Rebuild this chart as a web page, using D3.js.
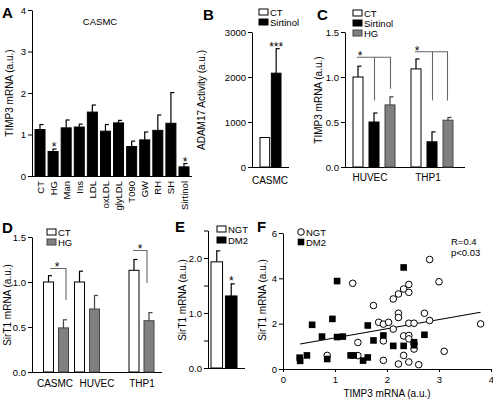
<!DOCTYPE html>
<html><head><meta charset="utf-8">
<script src="https://cdn.jsdelivr.net/npm/d3@7"></script>
<style>body{margin:0;background:#fff} text{font-family:"Liberation Sans",Arial,sans-serif;fill:#000}</style>
</head><body><svg id="c" width="493" height="401"></svg>
<script>
// ---------- data ----------
const catsA = ["CT","HG","Man","Ins","LDL","oxLDL","glyLDL","T090","GW","RH","SH","Sirtinol"];
const valsA = [1.12,0.59,1.16,1.18,1.54,1.08,1.28,0.71,0.87,1.10,1.27,0.22];
const errsA = [0.12,0.06,0.19,0.07,0.17,0.16,0.06,0.13,0.19,0.37,0.74,0.08];
const starsA = ["HG","Sirtinol"];
const ticksA = [0,1,2,3,4];

const seriesB = ["CT","Sirtinol"];
const valsB = [655,2085];
const errsB = [0,545];
const ticksB = [0,1000,2000,3000];

const groupsC = ["HUVEC","THP1"];
const seriesC = ["CT","Sirtinol","HG"];
const ctC = [1.00,1.09], ctErrC = [0.12,0.11];
const sirC = [0.50,0.28], sirErrC = [0.10,0.11];
const hgC = [0.69,0.52], hgErrC = [0.09,0.03];
const ticksC = [0,0.5,1.0,1.5];

const groupsD = ["CASMC","HUVEC","THP1"];
const seriesD = ["CT","HG"];
const ctD = [1.00,1.00,1.13], ctErrD = [0.07,0.12,0.12];
const hgD = [0.49,0.70,0.57], hgErrD = [0.09,0.15,0.09];
const ticksD = [0,0.5,1.0,1.5];

const seriesE = ["NGT","DM2"];
const valsE = [1.93,1.31];
const errsE = [0.20,0.22];
const ticksE = [0,0.5,1.0,1.5,2.0,2.5];

const ngtF = [[0.85,0.60],[1.34,3.78],[1.44,1.17],[1.44,0.59],[1.74,2.80],[1.84,2.06],[1.93,1.98],[1.93,1.24],[1.93,0.38],[2.03,2.06],[2.12,1.76],[2.12,3.09],[2.22,3.31],[2.22,2.46],[2.22,2.27],[2.22,0.22],[2.32,3.53],[2.32,1.46],[2.32,0.60],[2.42,3.73],[2.42,3.38],[2.42,2.02],[2.42,1.48],[2.42,1.33],[2.42,0.31],[2.52,2.02],[2.52,0.88],[2.52,1.12],[2.61,0.19],[2.72,2.46],[2.82,4.83],[2.82,2.14],[3.00,3.85],[3.10,0.78],[3.80,1.99]];
const dm2F = [[0.32,0.50],[0.33,0.36],[0.46,0.60],[0.56,1.95],[0.75,1.43],[0.85,0.44],[0.95,2.21],[1.04,3.88],[1.04,1.41],[1.15,1.43],[1.30,0.60],[1.36,0.60],[1.54,0.37],[1.63,0.51],[1.63,1.92],[1.74,1.26],[1.93,1.48],[2.12,1.02],[2.32,4.48],[2.32,1.02],[2.52,1.18],[2.52,1.05],[2.72,1.51]];
const fitF = [[0.33,1.10],[3.80,2.50]];
const ticksFx = [0,1,2,3,4];
const ticksFy = [0,2,4,6];

// ---------- helpers ----------
const svg = d3.select("#c");
svg.append("rect").attr("width",493).attr("height",401).attr("fill","#fff");
const GRAY = "#808080";
const FS = 9.5;

function yAxis(x, yS, ticks, fmt){
  const g = svg.append("g").attr("transform",`translate(${x},0)`);
  g.call(d3.axisLeft(yS).tickValues(ticks).tickSize(4).tickSizeOuter(0).tickPadding(2).tickFormat(fmt));
  g.selectAll("text").style("font-size",FS+"px").style("font-family","Liberation Sans, Arial, sans-serif");
  g.selectAll("path,line").attr("stroke","#000");
  return g;
}
function xLine(x1,x2,y){
  svg.append("line").attr("x1",x1).attr("x2",x2).attr("y1",y+0.5).attr("y2",y+0.5).attr("stroke","#000");
}
function bar(cx,w,yS,v,e,fill,stroke){
  svg.append("rect").attr("x",cx-w/2).attr("y",yS(v)).attr("width",w).attr("height",yS(0)-yS(v))
    .attr("fill",fill).attr("stroke",stroke).attr("stroke-width",1);
  if(e>0){
    svg.append("line").attr("x1",cx).attr("x2",cx).attr("y1",yS(v)).attr("y2",yS(v+e)).attr("stroke",stroke).attr("stroke-width",1.2);
    svg.append("line").attr("x1",cx-0.5).attr("x2",cx+3.5).attr("y1",yS(v+e)).attr("y2",yS(v+e)).attr("stroke",stroke).attr("stroke-width",1.2);
  }
}
function txt(x,y,s,size,opts={}){
  const t = svg.append("text").attr("x",x).attr("y",y).text(s).style("font-size",size+"px");
  if(opts.anchor) t.attr("text-anchor",opts.anchor);
  if(opts.bold) t.style("font-weight","bold");
  if(opts.rot) t.attr("transform",`rotate(-90,${x},${y})`);
  return t;
}
function legRect(x,y,fill,stroke,label){
  svg.append("rect").attr("x",x).attr("y",y-3).attr("width",9).attr("height",6).attr("fill",fill).attr("stroke",stroke);
  txt(x+11,y+3.5,label,FS);
}
function bracket(pts){
  svg.append("path").attr("d",d3.line()(pts)).attr("fill","none").attr("stroke","#666").attr("stroke-width",1.1);
}

// ---------- panel A ----------
const yA = d3.scaleLinear().domain([0,4]).range([176,10]);
const xA = d3.scalePoint().domain(catsA).range([40,184]);
yAxis(32,yA,ticksA,d3.format("d"));
xLine(32,192,176);
catsA.forEach((c,i)=>bar(xA(c),10,yA,valsA[i],errsA[i],"#000","#000"));
catsA.forEach(c=>{
  svg.append("text").attr("transform",`translate(${xA(c)+3.5},181) rotate(-90)`).attr("text-anchor","end").text(c).style("font-size",FS+"px");
});
starsA.forEach(c=>{const i=catsA.indexOf(c); txt(xA(c)+1,yA(valsA[i]+errsA[i])+2,"*",12,{anchor:"middle"});});
txt(100,25,"CASMC",FS,{anchor:"middle"});
txt(13,93,"TIMP3 mRNA (a.u.)",10,{anchor:"middle",rot:true});
txt(2,18,"A",15,{bold:true});

// ---------- panel B ----------
const yB = d3.scaleLinear().domain([0,3000]).range([167,32]);
const xB = d3.scaleBand().domain(seriesB).range([260,281]).paddingInner(0.15);
yAxis(252,yB,ticksB,d3.format("d"));
xLine(252,289,167);
seriesB.forEach((s,i)=>bar(xB(s)+xB.bandwidth()/2,xB.bandwidth(),yB,valsB[i],errsB[i],i?"#000":"#fff","#000"));
txt(xB("Sirtinol")+xB.bandwidth()/2,yB(valsB[1]+errsB[1])+2,"***",12,{anchor:"middle"});
legRect(259,12,"#fff","#000","CT");
legRect(259,22,"#000","#000","Sirtinol");
txt(270,184,"CASMC",10,{anchor:"middle"});
txt(205,100,"ADAM17 Activity (a.u.)",10,{anchor:"middle",rot:true});
txt(203,20,"B",15,{bold:true});

// ---------- panel C ----------
const yC = d3.scaleLinear().domain([0,1.5]).range([167,32]);
const xC = d3.scaleOrdinal().domain(groupsC).range([374,432]);
yAxis(345,yC,ticksC,d3.format(".1f"));
xLine(345,465,167);
const offC = d3.scaleOrdinal().domain(seriesC).range([-16,0,16]);
groupsC.forEach((g,i)=>{
  bar(xC(g)+offC("CT"),10,yC,ctC[i],ctErrC[i],"#fff","#000");
  bar(xC(g)+offC("Sirtinol"),10,yC,sirC[i],sirErrC[i],"#000","#000");
  bar(xC(g)+offC("HG"),10,yC,hgC[i],hgErrC[i],GRAY,"#444");
  txt(xC(g)-4,181,g,10,{anchor:"middle"});
});
bracket([[357,yC(1.22)],[390.5,yC(1.22)],[390.5,yC(0.87)]]);
bracket([[374.5,yC(1.22)],[374.5,yC(0.74)]]);
txt(360,yC(1.22)+3,"*",12,{anchor:"middle"});
bracket([[415,yC(1.28)],[447.5,yC(1.28)],[447.5,yC(0.74)]]);
bracket([[432.5,yC(1.28)],[432.5,yC(0.74)]]);
txt(417,yC(1.28)+3,"*",12,{anchor:"middle"});
legRect(353,13,"#fff","#000","CT");
legRect(353,23,"#000","#000","Sirtinol");
legRect(353,33,GRAY,"#444","HG");
txt(322,100,"TIMP3 mRNA (a.u.)",10,{anchor:"middle",rot:true});
txt(317,20,"C",15,{bold:true});

// ---------- panel D ----------
const yD = d3.scaleLinear().domain([0,1.5]).range([372,237]);
const xD = d3.scaleOrdinal().domain(groupsD).range([56,87,141.5]);
const xDlab = d3.scaleOrdinal().domain(groupsD).range([55,97,142]);
yAxis(32,yD,ticksD,d3.format(".1f"));
xLine(32,162,372);
groupsD.forEach((g,i)=>{
  bar(xD(g)-7.5,10,yD,ctD[i],ctErrD[i],"#fff","#000");
  bar(xD(g)+7.5,10,yD,hgD[i],hgErrD[i],GRAY,"#444");
  txt(xDlab(g),387,g,10,{anchor:"middle"});
});
bracket([[50,yD(1.15)],[66,yD(1.15)],[66,yD(0.80)]]);
txt(57,yD(1.15)+2,"*",12,{anchor:"middle"});
bracket([[133,yD(1.35)],[147,yD(1.35)],[147,yD(0.99)]]);
txt(140,yD(1.35)+2,"*",12,{anchor:"middle"});
legRect(47,232,"#fff","#000","CT");
legRect(47,242,GRAY,"#444","HG");
txt(11,305,"SirT1 mRNA (a.u.)",10,{anchor:"middle",rot:true});
txt(2,233,"D",15,{bold:true});

// ---------- panel E ----------
const yE = d3.scaleLinear().domain([0,2.5]).range([368,230.5]);
const xE = d3.scaleBand().domain(seriesE).range([211,237]).paddingInner(0.2);
yAxis(208,yE,ticksE,d=>(d%1===0?d3.format(".1f")(d):""));
xLine(208,245,368);
seriesE.forEach((s,i)=>bar(xE(s)+xE.bandwidth()/2,xE.bandwidth(),yE,valsE[i],errsE[i],i?"#000":"#fff","#000"));
txt(xE("DM2")+xE.bandwidth()/2,yE(valsE[1]+errsE[1])+1,"*",12,{anchor:"middle"});
legRect(217,229,"#fff","#000","NGT");
legRect(217,240,"#000","#000","DM2");
txt(186,300,"SirT1 mRNA (a.u.)",10,{anchor:"middle",rot:true});
txt(175,232,"E",15,{bold:true});

// ---------- panel F ----------
const xF = d3.scaleLinear().domain([0,4]).range([283,491]);
const yF = d3.scaleLinear().domain([0,6]).range([369,233]);
yAxis(283,yF,ticksFy,d3.format("d"));
const gx = svg.append("g").attr("transform","translate(0,369)")
  .call(d3.axisBottom(xF).tickValues(ticksFx).tickSize(3).tickSizeOuter(0).tickPadding(4).tickFormat(d3.format("d")));
gx.selectAll("text").style("font-size",FS+"px").style("font-family","Liberation Sans, Arial, sans-serif");
gx.selectAll("path,line").attr("stroke","#000");
svg.append("path").attr("d",d3.line().x(d=>xF(d[0])).y(d=>yF(d[1]))(fitF)).attr("stroke","#000").attr("stroke-width",1.1).attr("fill","none");
svg.selectAll(".ngt").data(ngtF).join("circle").attr("cx",d=>xF(d[0])).attr("cy",d=>yF(d[1])).attr("r",3.3)
  .attr("fill","#fff").attr("stroke","#000").attr("stroke-width",1);
svg.selectAll(".dm2").data(dm2F).join("rect").attr("x",d=>xF(d[0])-3.3).attr("y",d=>yF(d[1])-3.3).attr("width",6.6).attr("height",6.6).attr("fill","#000");
svg.append("circle").attr("cx",301).attr("cy",232).attr("r",3.3).attr("fill","#fff").attr("stroke","#000");
txt(306,235.5,"NGT",FS);
svg.append("rect").attr("x",297.7).attr("y",238.7).attr("width",6.6).attr("height",6.6).attr("fill","#000");
txt(306,245.5,"DM2",FS);
txt(451,245,"R=0.4",FS);
txt(451,256,"p<0.03",FS);
txt(387,397,"TIMP3 mRNA (a.u.)",10,{anchor:"middle"});
txt(266,300,"SirT1 mRNA (a.u.)",10,{anchor:"middle",rot:true});
txt(257,232,"F",15,{bold:true});
</script></body></html>
